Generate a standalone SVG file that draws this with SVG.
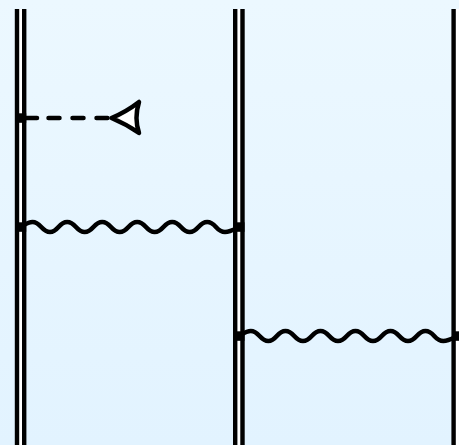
<svg xmlns="http://www.w3.org/2000/svg" width="459" height="445" viewBox="0 0 459 445">
<style>
.rail{fill:none;stroke:#000;stroke-width:4.400}
.inner{fill:none;stroke:#fff;stroke-width:3.4}
.line{fill:none;stroke:#000;stroke-width:4.500;stroke-linecap:round;stroke-linejoin:round}
.dash{stroke-dasharray:11 13}
.dot{fill:#000}
</style>
<defs>
<linearGradient id="bg" x1="0" y1="0" x2="0" y2="1"><stop offset="0" stop-color="#ecf8ff"/><stop offset="1" stop-color="#e2f3ff"/></linearGradient>
</defs>
<rect width="459" height="445" fill="url(#bg)"/>
<g id="rail-left">
<path class="inner" d="M20.600 9V445"/><path class="rail" d="M17 9V445M24.200 9V445"/></g>
<g id="rail-mid">
<path class="inner" d="M238.900 9V445"/><path class="rail" d="M235.200 9V445M242.500 9V445"/></g>
<g id="rail-right">
<path class="inner" d="M457.200 9V445"/><path class="rail" d="M453.600 9V445"/></g>
<g id="connectors">
<path class="line" d="M20.600 118H37"/>
<path class="line dash" d="M48.500 118H110"/>
<path class="line" d="M20.600 227C25 224.500 28 222 32.500 222C41 222 41.500 232 50 232S58.500 222 67.200 222S76 232 84.700 232S93.500 222 102.200 222S111 232 119.700 232S128.500 222 137.200 222S146 232 154.700 232S163.500 222 172.200 222S181 232 189.700 232S198.500 222 207.200 222S216 232 225 232C230 232 234 229.500 238.900 227"/>
<path class="line" d="M238.900 336C243.300 333.500 246.300 331 250.800 331C259.300 331 259.800 341 268.300 341S276.800 331 285.500 331S294.300 341 303 341S311.800 331 320.500 331S329.300 341 338 341S346.800 331 355.500 331S364.300 341 373 341S381.800 331 390.500 331S399.300 341 408 341S416.800 331 425.500 331S434.300 341 443.300 341C448.300 341 452.300 338.500 457.200 336"/>
</g>
<g id="end-triangle"><path class="line" style="fill:#fff" d="M111.500 118Q126 112 139 102Q134 118 139 133Q126 124 111.500 118Z"/></g>
<g id="v1"><rect class="dot" x="15.700" y="113.300" width="10.500" height="9.500"/></g>
<g id="v2"><rect class="dot" x="15.700" y="222.300" width="10.500" height="9.500"/></g>
<g id="v3"><rect class="dot" x="234" y="222.300" width="10.500" height="9.500"/></g>
<g id="v4"><rect class="dot" x="234" y="331.300" width="10.500" height="9.500"/></g>
<g id="v5"><rect class="dot" x="452.300" y="331.300" width="6.700" height="9.500"/></g>
</svg>
